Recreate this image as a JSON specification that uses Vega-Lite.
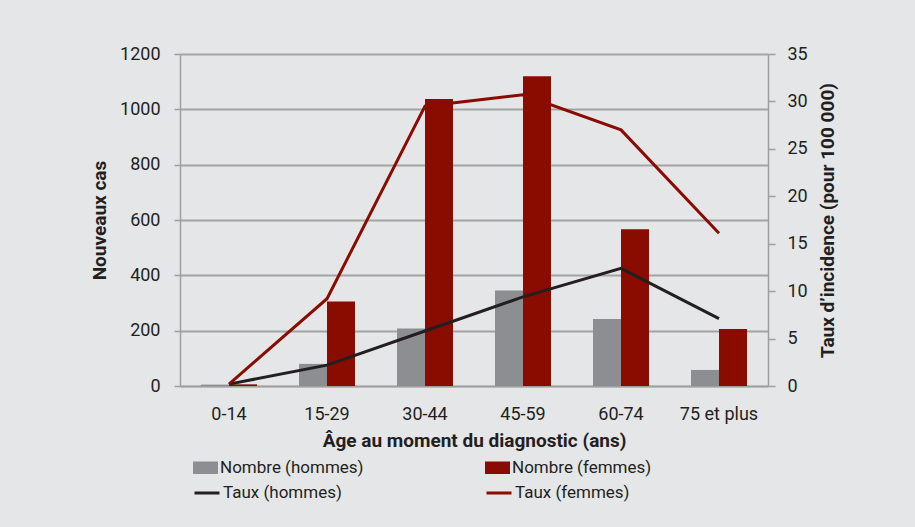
{
  "$schema": "https://vega.github.io/schema/vega-lite/v6.json",
  "width": 588,
  "height": 332,
  "autosize": {"type": "none"},
  "padding": {"left": 180, "top": 54, "right": 147, "bottom": 141},
  "background": "#e5e6e8",
  "config": {
    "font": "Roboto",
    "view": {"stroke": null},
    "axis": {
      "labelFont": "Roboto",
      "titleFont": "Roboto",
      "labelFontSize": 18,
      "labelColor": "#231f20",
      "titleFontSize": 19,
      "titleFontWeight": "bold",
      "titleColor": "#231f20",
      "domainColor": "#9f9f9f",
      "domainWidth": 1.5,
      "tickColor": "#9f9f9f",
      "tickWidth": 1.5,
      "gridColor": "#a3a3a3",
      "gridWidth": 2,
      "gridOpacity": 1
    },
    "legend": {
      "labelFont": "Roboto",
      "labelFontSize": 17,
      "labelColor": "#231f20",
      "labelLimit": 300,
      "padding": 0,
      "labelOffset": 2
    }
  },
  "data": {
    "values": [
      {"age": "0-14", "serie": "Nombre (hommes)", "kind": "Nombre", "value": 5},
      {"age": "0-14", "serie": "Nombre (femmes)", "kind": "Nombre", "value": 6},
      {"age": "15-29", "serie": "Nombre (hommes)", "kind": "Nombre", "value": 80},
      {"age": "15-29", "serie": "Nombre (femmes)", "kind": "Nombre", "value": 305},
      {"age": "30-44", "serie": "Nombre (hommes)", "kind": "Nombre", "value": 208},
      {"age": "30-44", "serie": "Nombre (femmes)", "kind": "Nombre", "value": 1037},
      {"age": "45-59", "serie": "Nombre (hommes)", "kind": "Nombre", "value": 345},
      {"age": "45-59", "serie": "Nombre (femmes)", "kind": "Nombre", "value": 1120},
      {"age": "60-74", "serie": "Nombre (hommes)", "kind": "Nombre", "value": 242},
      {"age": "60-74", "serie": "Nombre (femmes)", "kind": "Nombre", "value": 567},
      {"age": "75 et plus", "serie": "Nombre (hommes)", "kind": "Nombre", "value": 58},
      {"age": "75 et plus", "serie": "Nombre (femmes)", "kind": "Nombre", "value": 206},
      {"age": "0-14", "serie": "Taux (hommes)", "kind": "Taux", "value": 0.2},
      {"age": "15-29", "serie": "Taux (hommes)", "kind": "Taux", "value": 2.2},
      {"age": "30-44", "serie": "Taux (hommes)", "kind": "Taux", "value": 5.8},
      {"age": "45-59", "serie": "Taux (hommes)", "kind": "Taux", "value": 9.4},
      {"age": "60-74", "serie": "Taux (hommes)", "kind": "Taux", "value": 12.4},
      {"age": "75 et plus", "serie": "Taux (hommes)", "kind": "Taux", "value": 7.1},
      {"age": "0-14", "serie": "Taux (femmes)", "kind": "Taux", "value": 0.2},
      {"age": "15-29", "serie": "Taux (femmes)", "kind": "Taux", "value": 9.2},
      {"age": "30-44", "serie": "Taux (femmes)", "kind": "Taux", "value": 29.5},
      {"age": "45-59", "serie": "Taux (femmes)", "kind": "Taux", "value": 30.7},
      {"age": "60-74", "serie": "Taux (femmes)", "kind": "Taux", "value": 27.0},
      {"age": "75 et plus", "serie": "Taux (femmes)", "kind": "Taux", "value": 16.1}
    ]
  },
  "layer": [
    {
      "transform": [{"filter": "datum.kind === 'Nombre'"}],
      "mark": {"type": "bar"},
      "encoding": {
        "x": {
          "field": "age",
          "type": "nominal",
          "sort": ["0-14", "15-29", "30-44", "45-59", "60-74", "75 et plus"],
          "scale": {"paddingInner": 0, "paddingOuter": 0},
          "axis": {
            "title": "Âge au moment du diagnostic (ans)",
            "labelAngle": 0,
            "ticks": false,
            "tickSize": 0,
            "labelPadding": 19,
            "titlePadding": 8
          }
        },
        "xOffset": {
          "field": "serie",
          "type": "nominal",
          "sort": ["Nombre (hommes)", "Nombre (femmes)"],
          "scale": {"paddingInner": 0, "paddingOuter": 0.75}
        },
        "y": {
          "field": "value",
          "type": "quantitative",
          "scale": {"domain": [0, 1200], "nice": false},
          "axis": {
            "title": "Nouveaux cas",
            "format": "d",
            "values": [0, 200, 400, 600, 800, 1000, 1200],
            "grid": true,
            "tickSize": 6,
            "labelPadding": 14,
            "titlePadding": 10
          }
        },
        "fill": {
          "field": "serie",
          "type": "nominal",
          "scale": {"domain": ["Nombre (hommes)", "Nombre (femmes)"], "range": ["#8d8e91", "#8a0b00"]},
          "legend": {
            "title": null,
            "orient": "none",
            "direction": "horizontal",
            "legendX": 13,
            "legendY": 401,
            "columnPadding": 121,
            "symbolType": "M-1,-0.5H1V0.5H-1Z",
            "symbolSize": 625,
            "symbolStrokeWidth": 0,
            "symbolOpacity": 1
          }
        }
      }
    },
    {
      "transform": [{"filter": "datum.kind === 'Taux'"}],
      "mark": {"type": "line", "strokeWidth": 3},
      "encoding": {
        "x": {
          "field": "age",
          "type": "nominal",
          "sort": ["0-14", "15-29", "30-44", "45-59", "60-74", "75 et plus"]
        },
        "y": {
          "field": "value",
          "type": "quantitative",
          "scale": {"domain": [0, 35], "nice": false},
          "axis": {
            "orient": "right",
            "title": "Taux d’incidence (pour 100 000)",
            "titleAngle": 270,
            "titleBaseline": "top",
            "values": [0, 5, 10, 15, 20, 25, 30, 35],
            "grid": false,
            "tickSize": 7,
            "labelPadding": 12,
            "titlePadding": 11
          }
        },
        "stroke": {
          "field": "serie",
          "type": "nominal",
          "scale": {"domain": ["Taux (hommes)", "Taux (femmes)"], "range": ["#231f20", "#8a0b00"]},
          "legend": {
            "title": null,
            "orient": "none",
            "direction": "horizontal",
            "legendX": 13,
            "legendY": 425,
            "columnPadding": 138,
            "symbolType": "stroke",
            "symbolSize": 625,
            "symbolStrokeWidth": 3
          }
        }
      }
    }
  ],
  "resolve": {"scale": {"y": "independent", "xOffset": "independent"}}
}
